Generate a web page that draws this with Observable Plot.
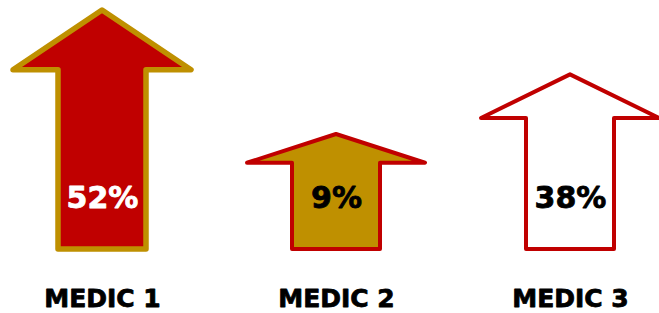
<!DOCTYPE html>
<html><head><meta charset="utf-8">
<script src="https://cdn.jsdelivr.net/npm/d3@7"></script>
<script src="https://cdn.jsdelivr.net/npm/@observablehq/plot@0.6"></script>
<style>body{margin:0;background:#fff} svg{display:block;background:#fff}</style>
</head><body><div id="chart"></div>
<script>
// ---- data ----
const medics = ["MEDIC 1", "MEDIC 2", "MEDIC 3"];
const shares = [52, 9, 38];
const shareLabels = ["52%", "9%", "38%"];

const data = medics.map((m, i) => ({medic: m, share: shares[i], label: shareLabels[i]}));

// ---- styles ----
const fillColors = ["#C00000", "#BF9000", "#FFFFFF"];
const strokeColors = ["#BF9000", "#C00000", "#C00000"];
const textColors = ["#FFFFFF", "#000000", "#000000"];
const strokeWidths = [5.5, 4, 4];
const MIN_LEN = 115, HEAD_HALF = 89, SHAFT_HALF = 44;
const FONT = "'DejaVu Sans', sans-serif";

function arrows(index, scales) {
  const g = d3.create("svg:g");
  data.forEach((d, i) => {
    const cx = scales.x(d.medic);
    const base = scales.y(0);
    const tip = Math.min(scales.y(d.share), base - MIN_LEN);
    const hb = tip + (base - tip) * 0.25;
    const pts = [[cx, tip], [cx + HEAD_HALF, hb], [cx + SHAFT_HALF, hb], [cx + SHAFT_HALF, base],
                 [cx - SHAFT_HALF, base], [cx - SHAFT_HALF, hb], [cx - HEAD_HALF, hb]];
    g.append("path")
      .attr("d", "M" + pts.map(p => p.join(",")).join("L") + "Z")
      .attr("fill", fillColors[i])
      .attr("stroke", strokeColors[i])
      .attr("stroke-width", strokeWidths[i])
      .attr("stroke-linejoin", "round");
  });
  return g.node();
}

const chart = Plot.plot({
  width: 659,
  height: 313,
  margin: 0,
  style: {background: "#fff", fontFamily: FONT},
  x: {type: "point", domain: medics, range: [102, 570], padding: 0, axis: null},
  y: {domain: [0, d3.max(shares)], range: [249, 10], axis: null},
  color: {type: "identity"},
  marks: [
    Plot.dot(data, {x: "medic", y: "share", r: 0, fill: "none"}),
    arrows,
    Plot.text(data, {
      x: "medic", text: "label", frameAnchor: "bottom", lineAnchor: "bottom", dy: -106,
      fill: (d, i) => textColors[i], stroke: (d, i) => textColors[i], strokeWidth: 0.8,
      fontSize: 30, fontWeight: "bold", fontFamily: FONT
    }),
    Plot.text(data, {
      x: "medic", text: "medic", frameAnchor: "bottom", lineAnchor: "bottom", dy: -7,
      fill: "#000", stroke: "#000", strokeWidth: 0.8,
      fontSize: 25, fontWeight: "bold", fontFamily: FONT
    })
  ]
});
document.getElementById("chart").appendChild(chart);
</script>
</body></html>
